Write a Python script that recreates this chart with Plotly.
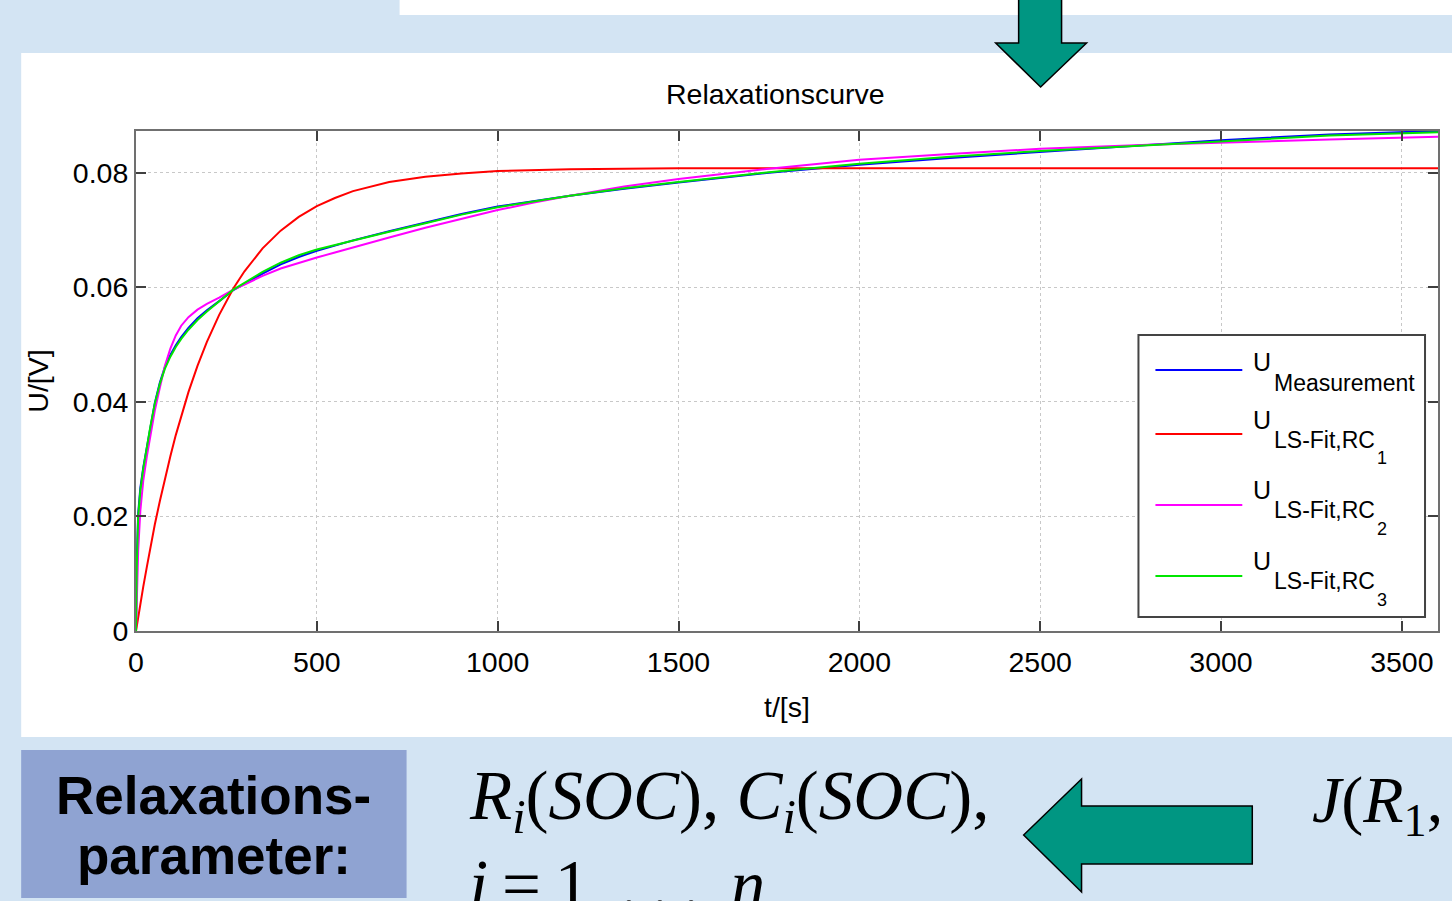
import plotly.graph_objects as go

# ---------------- data ----------------
t_s = [0, 2, 6, 12, 20, 30, 40, 52, 66, 80, 95, 110, 125, 145, 170, 196, 230, 269,
       300, 350, 400, 450, 500, 550, 600, 700, 800, 900, 1000, 1100, 1200, 1350,
       1500, 1750, 2000, 2250, 2500, 2800, 3000, 3300, 3600]

u_measurement = [0, 0.0120, 0.0205, 0.0250, 0.0285, 0.0322, 0.0358, 0.0398, 0.0434,
                 0.0461, 0.0482, 0.0499, 0.0513, 0.0529, 0.0546, 0.0560, 0.0576,
                 0.0595, 0.0606, 0.0624, 0.0640, 0.0653, 0.0664, 0.0673, 0.0682,
                 0.0698, 0.0713, 0.0728, 0.0741, 0.0751, 0.0760, 0.0772, 0.0783,
                 0.0800, 0.0814, 0.0826, 0.0836, 0.0849, 0.0857, 0.0867, 0.0873]

u_fit_rc1 = [0, 0.0008, 0.0024, 0.0047, 0.0077, 0.0112, 0.0146, 0.0186, 0.0227,
             0.0266, 0.0305, 0.0342, 0.0376, 0.0417, 0.0463, 0.0505, 0.0552,
             0.0598, 0.0628, 0.0668, 0.0699, 0.0723, 0.0742, 0.0756, 0.0768,
             0.0784, 0.0793, 0.0799, 0.0803, 0.0805, 0.0806, 0.0807, 0.0808,
             0.0808, 0.0808, 0.0808, 0.0808, 0.0808, 0.0808, 0.0808, 0.0808]

u_fit_rc2 = [0, 0.0060, 0.0140, 0.0210, 0.0262, 0.0305, 0.0345, 0.0385, 0.0425,
             0.0463, 0.0493, 0.0516, 0.0533, 0.0548, 0.0561, 0.0571, 0.0582,
             0.0596, 0.0605, 0.0620, 0.0633, 0.0643, 0.0652, 0.0661, 0.0670,
             0.0687, 0.0704, 0.0720, 0.0735, 0.0748, 0.0760, 0.0776, 0.0789,
             0.0807, 0.0823, 0.0833, 0.0842, 0.0849, 0.0853, 0.0858, 0.0863]

u_fit_rc3 = [0, 0.0110, 0.0200, 0.0245, 0.0283, 0.0322, 0.0358, 0.0397, 0.0432,
             0.0458, 0.0479, 0.0496, 0.0510, 0.0526, 0.0543, 0.0558, 0.0576,
             0.0596, 0.0608, 0.0627, 0.0643, 0.0656, 0.0666, 0.0674, 0.0682,
             0.0697, 0.0712, 0.0727, 0.0740, 0.0750, 0.0760, 0.0773, 0.0784,
             0.0801, 0.0816, 0.0828, 0.0838, 0.0848, 0.0855, 0.0865, 0.0871]

series_values = [u_measurement, u_fit_rc1, u_fit_rc2, u_fit_rc3]
series_names = ["U_Measurement", "U_LS-Fit,RC1", "U_LS-Fit,RC2", "U_LS-Fit,RC3"]
legend_sub = ["Measurement", "LS-Fit,RC", "LS-Fit,RC", "LS-Fit,RC"]
legend_subsub = ["", "1", "2", "3"]
series_colors = ["#0000ff", "#ff0000", "#ff00ff", "#00e600"]

x_ticks = [0, 500, 1000, 1500, 2000, 2500, 3000, 3500]
y_ticks = [0, 0.02, 0.04, 0.06, 0.08]

# ---------------- layout helpers ----------------
W, H = 1452, 901
PL, PR, PT, PB = 136, 1440, 131, 631  # plot area in pixels


def px(x):
    return (x - PL) / (PR - PL)


def py(y):
    return (PB - y) / (PB - PT)


SANS = "Liberation Sans, Arial, Helvetica, sans-serif"
SERIF = "Liberation Serif, Times New Roman, serif"
BG = "#d3e4f3"

fig = go.Figure()
for name, vals, col in zip(series_names, series_values, series_colors):
    fig.add_trace(go.Scatter(x=t_s, y=vals, mode="lines", name=name,
                             line=dict(color=col, width=2), showlegend=False))

shapes = []
annotations = []

# slide background pieces
shapes.append(dict(type="rect", xref="paper", yref="paper", layer="below",
                   x0=px(400), x1=px(1460), y0=py(15), y1=py(-5),
                   fillcolor="white", line=dict(width=0)))
shapes.append(dict(type="rect", xref="paper", yref="paper", layer="below",
                   x0=px(21), x1=px(1460), y0=py(737), y1=py(53),
                   fillcolor="white", line=dict(width=0)))
shapes.append(dict(type="rect", xref="paper", yref="paper", layer="below",
                   x0=px(21), x1=px(407), y0=py(898), y1=py(750),
                   fillcolor="#8fa3d2", line=dict(width=0)))

# down arrow
pts = [(1020, -5), (1020, 43), (997, 43), (1042, 87), (1088, 43), (1063, 43), (1063, -5)]
path = "M " + " L ".join(f"{px(a):.5f},{py(b):.5f}" for a, b in pts) + " Z"
shapes.append(dict(type="path", xref="paper", yref="paper", path=path,
                   fillcolor="#009682", line=dict(color="black", width=1.5)))
# left arrow
pts = [(1025, 835), (1083, 779), (1083, 806), (1254, 806), (1254, 864), (1083, 864), (1083, 892)]
path = "M " + " L ".join(f"{px(a):.5f},{py(b):.5f}" for a, b in pts) + " Z"
shapes.append(dict(type="path", xref="paper", yref="paper", path=path,
                   fillcolor="#009682", line=dict(color="black", width=1.5)))

# custom legend
shapes.append(dict(type="rect", xref="paper", yref="paper",
                   x0=px(1140), x1=px(1427), y0=py(617), y1=py(335),
                   fillcolor="white", line=dict(color="#444444", width=2)))
line_y = [370, 434, 505, 576]
u_y = [362, 420, 490, 561]
sub_y = [383, 440, 510, 581]
subsub_y = [0, 458, 529, 600]
for i in range(4):
    shapes.append(dict(type="line", xref="paper", yref="paper",
                       x0=px(1157), x1=px(1244), y0=py(line_y[i]), y1=py(line_y[i]),
                       line=dict(color=series_colors[i], width=2)))
    annotations.append(dict(xref="paper", yref="paper", x=px(1253), y=py(u_y[i]),
                            text="U", showarrow=False, xanchor="left", yanchor="middle",
                            font=dict(family=SANS, size=25, color="black")))
    annotations.append(dict(xref="paper", yref="paper", x=px(1274), y=py(sub_y[i]),
                            text=legend_sub[i], showarrow=False, xanchor="left",
                            yanchor="middle",
                            font=dict(family=SANS, size=23, color="black")))
    if legend_subsub[i]:
        annotations.append(dict(xref="paper", yref="paper", x=px(1377), y=py(subsub_y[i]),
                                text=legend_subsub[i], showarrow=False, xanchor="left",
                                yanchor="middle",
                                font=dict(family=SANS, size=18, color="black")))

# chart title
annotations.append(dict(xref="paper", yref="paper", x=px(776), y=py(94),
                        text="Relaxationscurve", showarrow=False,
                        xanchor="center", yanchor="middle",
                        font=dict(family=SANS, size=28.5, color="black")))

# slide texts
annotations.append(dict(xref="paper", yref="paper", x=px(214), y=py(795),
                        text="<b>Relaxations-</b>", showarrow=False,
                        xanchor="center", yanchor="middle",
                        font=dict(family=SANS, size=53, color="black")))
annotations.append(dict(xref="paper", yref="paper", x=px(214), y=py(855),
                        text="<b>parameter:</b>", showarrow=False,
                        xanchor="center", yanchor="middle",
                        font=dict(family=SANS, size=53, color="black")))
annotations.append(dict(xref="paper", yref="paper", x=px(468), y=py(800),
                        text="<i>R</i><sub><i>i</i></sub>(<i>SOC</i>), "
                             "<i>C</i><sub><i>i</i></sub>(<i>SOC</i>),",
                        showarrow=False, xanchor="left", yanchor="middle",
                        font=dict(family=SERIF, size=69, color="black")))
annotations.append(dict(xref="paper", yref="paper", x=px(468), y=py(885),
                        text="<i>i</i>\u2009=\u20091,\u2009.\u2009.\u2009.\u2009,<i>n</i>",
                        showarrow=False, xanchor="left", yanchor="middle",
                        font=dict(family=SERIF, size=69, color="black")))
annotations.append(dict(xref="paper", yref="paper", x=px(1312), y=py(805),
                        text="<i>J</i>(<i>R</i><sub>1</sub>, . . .",
                        showarrow=False, xanchor="left", yanchor="middle",
                        font=dict(family=SERIF, size=66, color="black")))

axis_common = dict(showline=True, linecolor="#707070", linewidth=2, mirror="ticks",
                   ticks="inside", ticklen=10, tickwidth=2, tickcolor="#404040",
                   showgrid=True, gridcolor="#c8c8c8", gridwidth=1, griddash="dot",
                   zeroline=False,
                   tickfont=dict(family=SANS, size=28.5, color="black"))

fig.update_layout(
    width=W, height=H,
    margin=dict(l=PL, r=W - PR, t=PT, b=H - PB, pad=0),
    paper_bgcolor=BG, plot_bgcolor="white",
    shapes=shapes, annotations=annotations,
    xaxis=dict(range=[0, 3600], tickvals=x_ticks, ticklabelstandoff=5,
               title=dict(text="t/[s]", standoff=20,
                          font=dict(family=SANS, size=28.5, color="black")),
               **axis_common),
    yaxis=dict(range=[0, 0.0873], tickvals=y_ticks,
               title=dict(text="U/[V]", standoff=16,
                          font=dict(family=SANS, size=28.5, color="black")),
               **axis_common),
)

fig.write_html("out.html")
